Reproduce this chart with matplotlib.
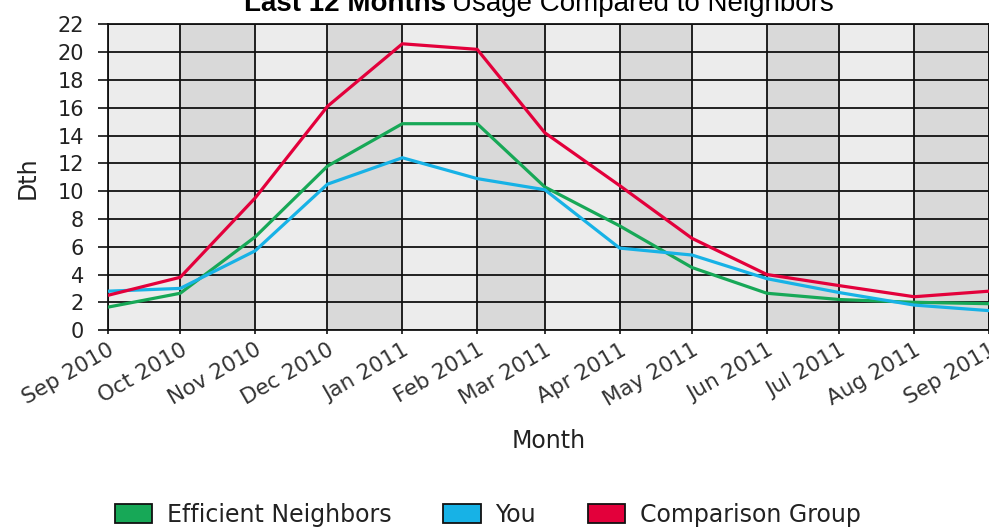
import matplotlib.pyplot as plt
from matplotlib.patches import Patch
import pandas as pd

# monthly usage
months = ['Sep 2010', 'Oct 2010', 'Nov 2010', 'Dec 2010', 'Jan 2011', 'Feb 2011',
          'Mar 2011', 'Apr 2011', 'May 2011', 'Jun 2011', 'Jul 2011', 'Aug 2011', 'Sep 2011']
efficient = [1.65, 2.65, 6.7, 11.8, 14.85, 14.85, 10.3, 7.5, 4.5, 2.65, 2.2, 2.0, 1.9]
you = [2.8, 3.0, 5.7, 10.5, 12.4, 10.9, 10.1, 5.9, 5.4, 3.7, 2.7, 1.8, 1.4]
comparison = [2.5, 3.8, 9.5, 16.1, 20.6, 20.2, 14.2, 10.4, 6.6, 4.0, 3.2, 2.4, 2.8]
yticks = list(range(0, 23, 2))

c_green = '#17a857'
c_blue = '#17b2e6'
c_red = '#e3003b'

dates = pd.to_datetime(months, format='%b %Y')

fig = plt.figure(figsize=(9.89, 5.29), dpi=100)
ax = fig.add_axes([0.109, 0.376, 0.891, 0.578])

# alternating month shading
for i in range(len(dates) - 1):
    ax.axvspan(dates[i], dates[i + 1], color='#ececec' if i % 2 == 0 else '#d9d9d9', zorder=0, lw=0)

ax.plot(dates, efficient, color=c_green, lw=2.3, zorder=3)
ax.plot(dates, you, color=c_blue, lw=2.3, zorder=3)
ax.plot(dates, comparison, color=c_red, lw=2.3, zorder=3)

ax.set_xlim(dates[0], dates[-1])
ax.set_ylim(0, 22)
ax.set_yticks(yticks)
ax.set_xticks(dates)
ax.set_xticklabels(months, rotation=30, ha='right', rotation_mode='anchor')
ax.grid(True, color='#111111', lw=1.3, zorder=1)
ax.set_axisbelow(False)
for s in ax.spines.values():
    s.set_color('#111111')
    s.set_linewidth(1.3)
ax.tick_params(axis='both', labelsize=15, colors='#111111', width=1.2)
ax.tick_params(axis='y', length=7, pad=10, labelcolor='#222222')
ax.tick_params(axis='x', labelsize=15.5, length=3, pad=4, labelcolor='#333333')
ax.set_ylabel('Dth', fontsize=17, color='#222222')
ax.yaxis.set_label_coords(-0.077, 0.5)
ax.set_xlabel('Month', fontsize=17, color='#222222')
ax.xaxis.set_label_coords(0.5, -0.325)

fig.text(0.451, 0.979, 'Last 12 Months', fontsize=20, fontweight='bold',
         family='Liberation Sans', ha='right', va='baseline')
fig.text(0.457, 0.979, 'Usage Compared to Neighbors', fontsize=20,
         family='Liberation Sans', ha='left', va='baseline')

handles = [Patch(facecolor=c_green, edgecolor='#111111', lw=1.3),
           Patch(facecolor=c_blue, edgecolor='#111111', lw=1.3),
           Patch(facecolor=c_red, edgecolor='#111111', lw=1.3)]
fig.legend(handles, ['Efficient Neighbors', 'You', 'Comparison Group'],
           loc='center', bbox_to_anchor=(0.493, 0.027), ncol=3, frameon=False,
           fontsize=17, handlelength=1.6, handleheight=0.8, columnspacing=2.2,
           handletextpad=0.6, labelcolor='#222222')

fig.savefig('out.png', dpi=100)
